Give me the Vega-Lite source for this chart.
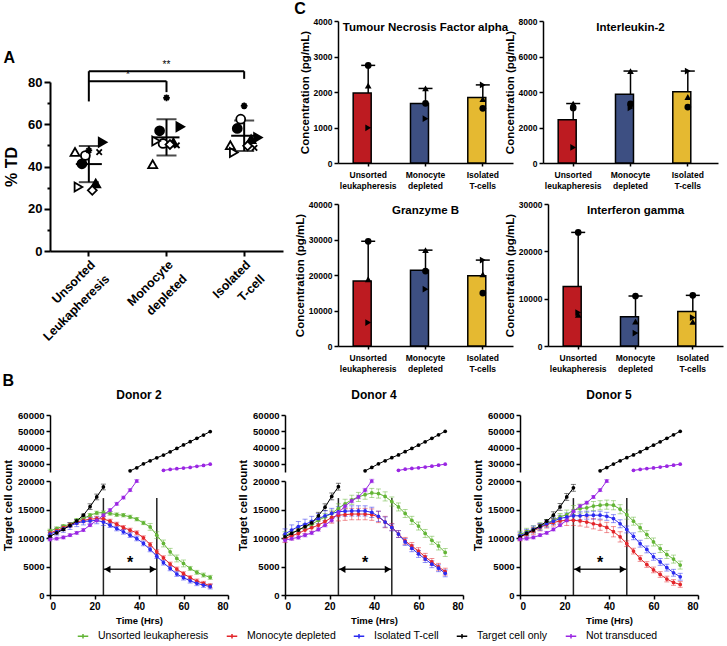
{
"$schema": "https://vega.github.io/schema/vega-lite/v6.json",
"padding": {"left": 2, "top": 1, "right": 2, "bottom": 2},
"config": {
  "font": "Liberation Sans",
  "view": {"stroke": null},
  "axis": {"grid": false, "domainColor": "#000", "tickColor": "#000", "labelColor": "#000", "titleColor": "#000", "labelFontWeight": "bold", "titleFontWeight": "bold", "domainWidth": 1.5, "tickWidth": 1.5, "labelOverlap": false},
  "title": {"fontWeight": "bold", "color": "#000"}
},
"datasets": {
  "a": [
    {"c":"Unsorted Leukapheresis","d":"D1","v":41.3},{"c":"Unsorted Leukapheresis","d":"D2","v":45.2},{"c":"Unsorted Leukapheresis","d":"D3","v":32},{"c":"Unsorted Leukapheresis","d":"D4","v":46.9},{"c":"Unsorted Leukapheresis","d":"D5","v":51.5},{"c":"Unsorted Leukapheresis","d":"D6","v":30.3},{"c":"Unsorted Leukapheresis","d":"D7","v":28.7},{"c":"Unsorted Leukapheresis","d":"D8","v":46.8},{"c":"Unsorted Leukapheresis","d":"D9","v":47.6},
    {"c":"Monocyte depleted","d":"D1","v":56.9},{"c":"Monocyte depleted","d":"D2","v":50.9},{"c":"Monocyte depleted","d":"D3","v":51.4},{"c":"Monocyte depleted","d":"D4","v":41.1},{"c":"Monocyte depleted","d":"D5","v":58.8},{"c":"Monocyte depleted","d":"D6","v":52.1},{"c":"Monocyte depleted","d":"D7","v":50.4},{"c":"Monocyte depleted","d":"D8","v":50.0},{"c":"Monocyte depleted","d":"D9","v":72.5},
    {"c":"Isolated T-cell","d":"D1","v":58},{"c":"Isolated T-cell","d":"D2","v":62.4},{"c":"Isolated T-cell","d":"D3","v":52.9},{"c":"Isolated T-cell","d":"D4","v":50.1},{"c":"Isolated T-cell","d":"D5","v":53.7},{"c":"Isolated T-cell","d":"D6","v":46.6},{"c":"Isolated T-cell","d":"D7","v":49.8},{"c":"Isolated T-cell","d":"D8","v":48.8},{"c":"Isolated T-cell","d":"D9","v":68.7}
  ],
  "abr": [
    {"c":"Unsorted Leukapheresis","c2":"Unsorted Leukapheresis","v":70.8,"v2":85.1},
    {"c":"Unsorted Leukapheresis","c2":"Isolated T-cell","v":85.1,"v2":85.1},
    {"c":"Isolated T-cell","c2":"Isolated T-cell","v":81.5,"v2":85.1},
    {"c":"Unsorted Leukapheresis","c2":"Monocyte depleted","v":80.4,"v2":80.4},
    {"c":"Monocyte depleted","c2":"Monocyte depleted","v":75.2,"v2":80.4}
  ],
  "c": [
    {"k":"TNF","c":"Unsorted leukapheresis","d":"P1","v":2750},{"k":"TNF","c":"Unsorted leukapheresis","d":"P2","v":2180},{"k":"TNF","c":"Unsorted leukapheresis","d":"P3","v":990},
    {"k":"TNF","c":"Monocyte depleted","d":"P1","v":1680},{"k":"TNF","c":"Monocyte depleted","d":"P2","v":2100},{"k":"TNF","c":"Monocyte depleted","d":"P3","v":1250},
    {"k":"TNF","c":"Isolated T-cells","d":"P1","v":1540},{"k":"TNF","c":"Isolated T-cells","d":"P2","v":1800},{"k":"TNF","c":"Isolated T-cells","d":"P3","v":2200},
    {"k":"IL2","c":"Unsorted leukapheresis","d":"P1","v":3100},{"k":"IL2","c":"Unsorted leukapheresis","d":"P2","v":3350},{"k":"IL2","c":"Unsorted leukapheresis","d":"P3","v":880},
    {"k":"IL2","c":"Monocyte depleted","d":"P1","v":3330},{"k":"IL2","c":"Monocyte depleted","d":"P2","v":5180},{"k":"IL2","c":"Monocyte depleted","d":"P3","v":3100},
    {"k":"IL2","c":"Isolated T-cells","d":"P1","v":3150},{"k":"IL2","c":"Isolated T-cells","d":"P2","v":3720},{"k":"IL2","c":"Isolated T-cells","d":"P3","v":5180},
    {"k":"GZB","c":"Unsorted leukapheresis","d":"P1","v":29500},{"k":"GZB","c":"Unsorted leukapheresis","d":"P2","v":18800},{"k":"GZB","c":"Unsorted leukapheresis","d":"P3","v":6600},
    {"k":"GZB","c":"Monocyte depleted","d":"P1","v":21100},{"k":"GZB","c":"Monocyte depleted","d":"P2","v":27000},{"k":"GZB","c":"Monocyte depleted","d":"P3","v":16000},
    {"k":"GZB","c":"Isolated T-cells","d":"P1","v":14900},{"k":"GZB","c":"Isolated T-cells","d":"P2","v":20200},{"k":"GZB","c":"Isolated T-cells","d":"P3","v":24200},
    {"k":"IFN","c":"Unsorted leukapheresis","d":"P1","v":24000},{"k":"IFN","c":"Unsorted leukapheresis","d":"P2","v":6570},{"k":"IFN","c":"Unsorted leukapheresis","d":"P3","v":7070},
    {"k":"IFN","c":"Monocyte depleted","d":"P1","v":10560},{"k":"IFN","c":"Monocyte depleted","d":"P2","v":5170},{"k":"IFN","c":"Monocyte depleted","d":"P3","v":2730},
    {"k":"IFN","c":"Isolated T-cells","d":"P1","v":10700},{"k":"IFN","c":"Isolated T-cells","d":"P2","v":5100},{"k":"IFN","c":"Isolated T-cells","d":"P3","v":6000}
  ],
  "vr": [{"t":24,"y":0,"y2":17000},{"t":48,"y":0,"y2":17000}],
  "ar": [{"t":24,"t2":48,"y":4500}],
  "ah": [{"t":25.8,"y":4500,"sh":"triangle-left"},{"t":46.2,"y":4500,"sh":"triangle-right"}],
  "st": [{"t":36,"y":5600,"txt":"*"}],
  "b": [
{"d":2,"s":"Unsorted leukapheresis","t":0,"y":11250,"e":300},{"d":2,"s":"Unsorted leukapheresis","t":3,"y":11660,"e":300},{"d":2,"s":"Unsorted leukapheresis","t":6,"y":12070,"e":300},{"d":2,"s":"Unsorted leukapheresis","t":9,"y":12420,"e":300},{"d":2,"s":"Unsorted leukapheresis","t":12,"y":13120,"e":300},{"d":2,"s":"Unsorted leukapheresis","t":15,"y":13410,"e":300},{"d":2,"s":"Unsorted leukapheresis","t":18,"y":14000,"e":300},{"d":2,"s":"Unsorted leukapheresis","t":21,"y":14400,"e":300},{"d":2,"s":"Unsorted leukapheresis","t":24,"y":14460,"e":300},{"d":2,"s":"Unsorted leukapheresis","t":27,"y":14300,"e":300},{"d":2,"s":"Unsorted leukapheresis","t":30,"y":14100,"e":300},{"d":2,"s":"Unsorted leukapheresis","t":33,"y":14000,"e":300},{"d":2,"s":"Unsorted leukapheresis","t":36,"y":13700,"e":300},{"d":2,"s":"Unsorted leukapheresis","t":39,"y":13300,"e":300},{"d":2,"s":"Unsorted leukapheresis","t":42,"y":12650,"e":300},{"d":2,"s":"Unsorted leukapheresis","t":45,"y":11950,"e":600},{"d":2,"s":"Unsorted leukapheresis","t":48,"y":10500,"e":600},{"d":2,"s":"Unsorted leukapheresis","t":51,"y":9040,"e":600},{"d":2,"s":"Unsorted leukapheresis","t":54,"y":7580,"e":600},{"d":2,"s":"Unsorted leukapheresis","t":57,"y":6410,"e":600},{"d":2,"s":"Unsorted leukapheresis","t":60,"y":5540,"e":600},{"d":2,"s":"Unsorted leukapheresis","t":63,"y":4660,"e":350},{"d":2,"s":"Unsorted leukapheresis","t":66,"y":3970,"e":350},{"d":2,"s":"Unsorted leukapheresis","t":69,"y":3500,"e":350},{"d":2,"s":"Unsorted leukapheresis","t":72,"y":3090,"e":350},
{"d":2,"s":"Monocyte depleted","t":0,"y":10900,"e":400},{"d":2,"s":"Monocyte depleted","t":3,"y":11300,"e":400},{"d":2,"s":"Monocyte depleted","t":6,"y":11800,"e":400},{"d":2,"s":"Monocyte depleted","t":9,"y":12300,"e":400},{"d":2,"s":"Monocyte depleted","t":12,"y":12800,"e":400},{"d":2,"s":"Monocyte depleted","t":15,"y":13100,"e":400},{"d":2,"s":"Monocyte depleted","t":18,"y":13300,"e":400},{"d":2,"s":"Monocyte depleted","t":21,"y":13400,"e":400},{"d":2,"s":"Monocyte depleted","t":24,"y":13350,"e":400},{"d":2,"s":"Monocyte depleted","t":27,"y":12940,"e":350},{"d":2,"s":"Monocyte depleted","t":30,"y":12420,"e":350},{"d":2,"s":"Monocyte depleted","t":33,"y":11840,"e":350},{"d":2,"s":"Monocyte depleted","t":36,"y":11370,"e":350},{"d":2,"s":"Monocyte depleted","t":39,"y":10900,"e":350},{"d":2,"s":"Monocyte depleted","t":42,"y":10030,"e":350},{"d":2,"s":"Monocyte depleted","t":45,"y":8860,"e":350},{"d":2,"s":"Monocyte depleted","t":48,"y":7580,"e":350},{"d":2,"s":"Monocyte depleted","t":51,"y":6530,"e":350},{"d":2,"s":"Monocyte depleted","t":54,"y":5420,"e":350},{"d":2,"s":"Monocyte depleted","t":57,"y":4550,"e":350},{"d":2,"s":"Monocyte depleted","t":60,"y":3730,"e":350},{"d":2,"s":"Monocyte depleted","t":63,"y":3030,"e":350},{"d":2,"s":"Monocyte depleted","t":66,"y":2450,"e":350},{"d":2,"s":"Monocyte depleted","t":69,"y":2040,"e":350},{"d":2,"s":"Monocyte depleted","t":72,"y":1630,"e":350},
{"d":2,"s":"Isolated T-cell","t":0,"y":10700,"e":600},{"d":2,"s":"Isolated T-cell","t":3,"y":11100,"e":600},{"d":2,"s":"Isolated T-cell","t":6,"y":11600,"e":600},{"d":2,"s":"Isolated T-cell","t":9,"y":12100,"e":600},{"d":2,"s":"Isolated T-cell","t":12,"y":12600,"e":600},{"d":2,"s":"Isolated T-cell","t":15,"y":12900,"e":600},{"d":2,"s":"Isolated T-cell","t":18,"y":13000,"e":600},{"d":2,"s":"Isolated T-cell","t":21,"y":13100,"e":600},{"d":2,"s":"Isolated T-cell","t":24,"y":12800,"e":600},{"d":2,"s":"Isolated T-cell","t":27,"y":12240,"e":400},{"d":2,"s":"Isolated T-cell","t":30,"y":11660,"e":400},{"d":2,"s":"Isolated T-cell","t":33,"y":11080,"e":400},{"d":2,"s":"Isolated T-cell","t":36,"y":10500,"e":400},{"d":2,"s":"Isolated T-cell","t":39,"y":9910,"e":400},{"d":2,"s":"Isolated T-cell","t":42,"y":9040,"e":400},{"d":2,"s":"Isolated T-cell","t":45,"y":7990,"e":400},{"d":2,"s":"Isolated T-cell","t":48,"y":6820,"e":400},{"d":2,"s":"Isolated T-cell","t":51,"y":5660,"e":400},{"d":2,"s":"Isolated T-cell","t":54,"y":4660,"e":400},{"d":2,"s":"Isolated T-cell","t":57,"y":3670,"e":400},{"d":2,"s":"Isolated T-cell","t":60,"y":3030,"e":400},{"d":2,"s":"Isolated T-cell","t":63,"y":2500,"e":400},{"d":2,"s":"Isolated T-cell","t":66,"y":2040,"e":400},{"d":2,"s":"Isolated T-cell","t":69,"y":1750,"e":400},{"d":2,"s":"Isolated T-cell","t":72,"y":1460,"e":400},
{"d":2,"s":"Target cell only","t":0,"y":10300,"e":200},{"d":2,"s":"Target cell only","t":3,"y":10900,"e":200},{"d":2,"s":"Target cell only","t":6,"y":11500,"e":200},{"d":2,"s":"Target cell only","t":9,"y":12200,"e":200},{"d":2,"s":"Target cell only","t":12,"y":13000,"e":200},{"d":2,"s":"Target cell only","t":15,"y":14000,"e":200},{"d":2,"s":"Target cell only","t":18,"y":15500,"e":500},{"d":2,"s":"Target cell only","t":21,"y":17200,"e":500},{"d":2,"s":"Target cell only","t":24,"y":18950,"e":500},{"d":2,"s":"Target cell only","t":27,"y":20900,"e":200},{"d":2,"s":"Target cell only","t":30,"y":22500,"e":200},{"d":2,"s":"Target cell only","t":33,"y":24100,"e":200},{"d":2,"s":"Target cell only","t":36,"y":25700,"e":200},{"d":2,"s":"Target cell only","t":39,"y":27600,"e":200},{"d":2,"s":"Target cell only","t":42,"y":30000,"e":200},{"d":2,"s":"Target cell only","t":45,"y":31900,"e":200},{"d":2,"s":"Target cell only","t":48,"y":33700,"e":200},{"d":2,"s":"Target cell only","t":51,"y":35400,"e":200},{"d":2,"s":"Target cell only","t":54,"y":37400,"e":200},{"d":2,"s":"Target cell only","t":57,"y":39500,"e":200},{"d":2,"s":"Target cell only","t":60,"y":41600,"e":200},{"d":2,"s":"Target cell only","t":63,"y":43600,"e":200},{"d":2,"s":"Target cell only","t":66,"y":45700,"e":200},{"d":2,"s":"Target cell only","t":69,"y":47700,"e":200},{"d":2,"s":"Target cell only","t":72,"y":49800,"e":200},
{"d":2,"s":"Not transduced","t":0,"y":9750,"e":250},{"d":2,"s":"Not transduced","t":3,"y":9900,"e":250},{"d":2,"s":"Not transduced","t":6,"y":10100,"e":250},{"d":2,"s":"Not transduced","t":9,"y":10500,"e":250},{"d":2,"s":"Not transduced","t":12,"y":10900,"e":250},{"d":2,"s":"Not transduced","t":15,"y":11400,"e":250},{"d":2,"s":"Not transduced","t":18,"y":12250,"e":250},{"d":2,"s":"Not transduced","t":21,"y":13100,"e":250},{"d":2,"s":"Not transduced","t":24,"y":14000,"e":250},{"d":2,"s":"Not transduced","t":27,"y":14900,"e":250},{"d":2,"s":"Not transduced","t":30,"y":16000,"e":250},{"d":2,"s":"Not transduced","t":33,"y":17100,"e":250},{"d":2,"s":"Not transduced","t":36,"y":18400,"e":250},{"d":2,"s":"Not transduced","t":39,"y":20000,"e":250},{"d":2,"s":"Not transduced","t":42,"y":21800,"e":250},{"d":2,"s":"Not transduced","t":45,"y":23500,"e":250},{"d":2,"s":"Not transduced","t":48,"y":24800,"e":250},{"d":2,"s":"Not transduced","t":51,"y":26000,"e":250},{"d":2,"s":"Not transduced","t":54,"y":26600,"e":250},{"d":2,"s":"Not transduced","t":57,"y":27000,"e":250},{"d":2,"s":"Not transduced","t":60,"y":27400,"e":250},{"d":2,"s":"Not transduced","t":63,"y":27800,"e":250},{"d":2,"s":"Not transduced","t":66,"y":28500,"e":250},{"d":2,"s":"Not transduced","t":69,"y":29000,"e":250},{"d":2,"s":"Not transduced","t":72,"y":29800,"e":250},
{"d":4,"s":"Unsorted leukapheresis","t":0,"y":10500,"e":600},{"d":4,"s":"Unsorted leukapheresis","t":3,"y":10900,"e":600},{"d":4,"s":"Unsorted leukapheresis","t":6,"y":11400,"e":600},{"d":4,"s":"Unsorted leukapheresis","t":9,"y":11950,"e":600},{"d":4,"s":"Unsorted leukapheresis","t":12,"y":12400,"e":600},{"d":4,"s":"Unsorted leukapheresis","t":15,"y":13100,"e":600},{"d":4,"s":"Unsorted leukapheresis","t":18,"y":13700,"e":600},{"d":4,"s":"Unsorted leukapheresis","t":21,"y":14300,"e":600},{"d":4,"s":"Unsorted leukapheresis","t":24,"y":15200,"e":800},{"d":4,"s":"Unsorted leukapheresis","t":27,"y":16000,"e":800},{"d":4,"s":"Unsorted leukapheresis","t":30,"y":16700,"e":800},{"d":4,"s":"Unsorted leukapheresis","t":33,"y":17200,"e":800},{"d":4,"s":"Unsorted leukapheresis","t":36,"y":17600,"e":800},{"d":4,"s":"Unsorted leukapheresis","t":39,"y":17900,"e":800},{"d":4,"s":"Unsorted leukapheresis","t":42,"y":17800,"e":800},{"d":4,"s":"Unsorted leukapheresis","t":45,"y":17300,"e":800},{"d":4,"s":"Unsorted leukapheresis","t":48,"y":16400,"e":800},{"d":4,"s":"Unsorted leukapheresis","t":51,"y":15450,"e":700},{"d":4,"s":"Unsorted leukapheresis","t":54,"y":14300,"e":700},{"d":4,"s":"Unsorted leukapheresis","t":57,"y":13100,"e":700},{"d":4,"s":"Unsorted leukapheresis","t":60,"y":12100,"e":700},{"d":4,"s":"Unsorted leukapheresis","t":63,"y":10800,"e":700},{"d":4,"s":"Unsorted leukapheresis","t":66,"y":9600,"e":700},{"d":4,"s":"Unsorted leukapheresis","t":69,"y":8600,"e":700},{"d":4,"s":"Unsorted leukapheresis","t":72,"y":7460,"e":700},
{"d":4,"s":"Monocyte depleted","t":0,"y":9900,"e":700},{"d":4,"s":"Monocyte depleted","t":3,"y":10400,"e":700},{"d":4,"s":"Monocyte depleted","t":6,"y":10800,"e":700},{"d":4,"s":"Monocyte depleted","t":9,"y":11400,"e":700},{"d":4,"s":"Monocyte depleted","t":12,"y":11800,"e":700},{"d":4,"s":"Monocyte depleted","t":15,"y":12250,"e":700},{"d":4,"s":"Monocyte depleted","t":18,"y":12900,"e":700},{"d":4,"s":"Monocyte depleted","t":21,"y":13600,"e":1000},{"d":4,"s":"Monocyte depleted","t":24,"y":14000,"e":1000},{"d":4,"s":"Monocyte depleted","t":27,"y":14100,"e":1000},{"d":4,"s":"Monocyte depleted","t":30,"y":14200,"e":1000},{"d":4,"s":"Monocyte depleted","t":33,"y":14200,"e":1000},{"d":4,"s":"Monocyte depleted","t":36,"y":14200,"e":1000},{"d":4,"s":"Monocyte depleted","t":39,"y":14100,"e":1000},{"d":4,"s":"Monocyte depleted","t":42,"y":13700,"e":1000},{"d":4,"s":"Monocyte depleted","t":45,"y":12800,"e":1000},{"d":4,"s":"Monocyte depleted","t":48,"y":11950,"e":600},{"d":4,"s":"Monocyte depleted","t":51,"y":10700,"e":600},{"d":4,"s":"Monocyte depleted","t":54,"y":9500,"e":600},{"d":4,"s":"Monocyte depleted","t":57,"y":8600,"e":600},{"d":4,"s":"Monocyte depleted","t":60,"y":7700,"e":600},{"d":4,"s":"Monocyte depleted","t":63,"y":6700,"e":600},{"d":4,"s":"Monocyte depleted","t":66,"y":5800,"e":600},{"d":4,"s":"Monocyte depleted","t":69,"y":4950,"e":600},{"d":4,"s":"Monocyte depleted","t":72,"y":4100,"e":600},
{"d":4,"s":"Isolated T-cell","t":0,"y":10700,"e":900},{"d":4,"s":"Isolated T-cell","t":3,"y":11400,"e":900},{"d":4,"s":"Isolated T-cell","t":6,"y":12000,"e":900},{"d":4,"s":"Isolated T-cell","t":9,"y":12400,"e":900},{"d":4,"s":"Isolated T-cell","t":12,"y":12900,"e":900},{"d":4,"s":"Isolated T-cell","t":15,"y":13400,"e":900},{"d":4,"s":"Isolated T-cell","t":18,"y":13900,"e":900},{"d":4,"s":"Isolated T-cell","t":21,"y":14300,"e":900},{"d":4,"s":"Isolated T-cell","t":24,"y":14600,"e":900},{"d":4,"s":"Isolated T-cell","t":27,"y":14700,"e":900},{"d":4,"s":"Isolated T-cell","t":30,"y":14750,"e":900},{"d":4,"s":"Isolated T-cell","t":33,"y":14750,"e":900},{"d":4,"s":"Isolated T-cell","t":36,"y":14750,"e":900},{"d":4,"s":"Isolated T-cell","t":39,"y":14500,"e":900},{"d":4,"s":"Isolated T-cell","t":42,"y":13800,"e":900},{"d":4,"s":"Isolated T-cell","t":45,"y":12800,"e":900},{"d":4,"s":"Isolated T-cell","t":48,"y":11850,"e":600},{"d":4,"s":"Isolated T-cell","t":51,"y":10700,"e":600},{"d":4,"s":"Isolated T-cell","t":54,"y":9300,"e":600},{"d":4,"s":"Isolated T-cell","t":57,"y":8200,"e":600},{"d":4,"s":"Isolated T-cell","t":60,"y":7200,"e":600},{"d":4,"s":"Isolated T-cell","t":63,"y":6300,"e":600},{"d":4,"s":"Isolated T-cell","t":66,"y":5400,"e":600},{"d":4,"s":"Isolated T-cell","t":69,"y":4700,"e":600},{"d":4,"s":"Isolated T-cell","t":72,"y":3800,"e":600},
{"d":4,"s":"Target cell only","t":0,"y":10200,"e":300},{"d":4,"s":"Target cell only","t":3,"y":10800,"e":300},{"d":4,"s":"Target cell only","t":6,"y":11400,"e":300},{"d":4,"s":"Target cell only","t":9,"y":12000,"e":300},{"d":4,"s":"Target cell only","t":12,"y":12650,"e":300},{"d":4,"s":"Target cell only","t":15,"y":13900,"e":600},{"d":4,"s":"Target cell only","t":18,"y":15400,"e":600},{"d":4,"s":"Target cell only","t":21,"y":17300,"e":600},{"d":4,"s":"Target cell only","t":24,"y":19000,"e":600},{"d":4,"s":"Target cell only","t":27,"y":20900,"e":300},{"d":4,"s":"Target cell only","t":30,"y":22500,"e":300},{"d":4,"s":"Target cell only","t":33,"y":24100,"e":300},{"d":4,"s":"Target cell only","t":36,"y":25700,"e":300},{"d":4,"s":"Target cell only","t":39,"y":27800,"e":300},{"d":4,"s":"Target cell only","t":42,"y":30000,"e":300},{"d":4,"s":"Target cell only","t":45,"y":31900,"e":300},{"d":4,"s":"Target cell only","t":48,"y":33800,"e":300},{"d":4,"s":"Target cell only","t":51,"y":35500,"e":300},{"d":4,"s":"Target cell only","t":54,"y":37500,"e":300},{"d":4,"s":"Target cell only","t":57,"y":39500,"e":300},{"d":4,"s":"Target cell only","t":60,"y":41500,"e":300},{"d":4,"s":"Target cell only","t":63,"y":43500,"e":300},{"d":4,"s":"Target cell only","t":66,"y":45700,"e":300},{"d":4,"s":"Target cell only","t":69,"y":47800,"e":300},{"d":4,"s":"Target cell only","t":72,"y":50000,"e":300},
{"d":4,"s":"Not transduced","t":0,"y":9600,"e":300},{"d":4,"s":"Not transduced","t":3,"y":9900,"e":300},{"d":4,"s":"Not transduced","t":6,"y":10100,"e":300},{"d":4,"s":"Not transduced","t":9,"y":10500,"e":300},{"d":4,"s":"Not transduced","t":12,"y":10900,"e":300},{"d":4,"s":"Not transduced","t":15,"y":11500,"e":300},{"d":4,"s":"Not transduced","t":18,"y":12250,"e":300},{"d":4,"s":"Not transduced","t":21,"y":13100,"e":300},{"d":4,"s":"Not transduced","t":24,"y":14400,"e":300},{"d":4,"s":"Not transduced","t":27,"y":15600,"e":300},{"d":4,"s":"Not transduced","t":30,"y":16500,"e":300},{"d":4,"s":"Not transduced","t":33,"y":17200,"e":300},{"d":4,"s":"Not transduced","t":36,"y":18400,"e":300},{"d":4,"s":"Not transduced","t":39,"y":20000,"e":300},{"d":4,"s":"Not transduced","t":42,"y":21800,"e":300},{"d":4,"s":"Not transduced","t":45,"y":23500,"e":300},{"d":4,"s":"Not transduced","t":48,"y":24800,"e":300},{"d":4,"s":"Not transduced","t":51,"y":26000,"e":300},{"d":4,"s":"Not transduced","t":54,"y":26700,"e":300},{"d":4,"s":"Not transduced","t":57,"y":27200,"e":300},{"d":4,"s":"Not transduced","t":60,"y":27600,"e":300},{"d":4,"s":"Not transduced","t":63,"y":28000,"e":300},{"d":4,"s":"Not transduced","t":66,"y":28600,"e":300},{"d":4,"s":"Not transduced","t":69,"y":29200,"e":300},{"d":4,"s":"Not transduced","t":72,"y":29800,"e":300},
{"d":5,"s":"Unsorted leukapheresis","t":0,"y":10600,"e":600},{"d":5,"s":"Unsorted leukapheresis","t":3,"y":11100,"e":600},{"d":5,"s":"Unsorted leukapheresis","t":6,"y":11550,"e":600},{"d":5,"s":"Unsorted leukapheresis","t":9,"y":12100,"e":600},{"d":5,"s":"Unsorted leukapheresis","t":12,"y":12650,"e":600},{"d":5,"s":"Unsorted leukapheresis","t":15,"y":13100,"e":600},{"d":5,"s":"Unsorted leukapheresis","t":18,"y":13700,"e":600},{"d":5,"s":"Unsorted leukapheresis","t":21,"y":14100,"e":800},{"d":5,"s":"Unsorted leukapheresis","t":24,"y":14900,"e":800},{"d":5,"s":"Unsorted leukapheresis","t":27,"y":15150,"e":800},{"d":5,"s":"Unsorted leukapheresis","t":30,"y":15300,"e":800},{"d":5,"s":"Unsorted leukapheresis","t":33,"y":15600,"e":800},{"d":5,"s":"Unsorted leukapheresis","t":36,"y":15750,"e":800},{"d":5,"s":"Unsorted leukapheresis","t":39,"y":15850,"e":800},{"d":5,"s":"Unsorted leukapheresis","t":42,"y":15750,"e":800},{"d":5,"s":"Unsorted leukapheresis","t":45,"y":15050,"e":800},{"d":5,"s":"Unsorted leukapheresis","t":48,"y":14100,"e":800},{"d":5,"s":"Unsorted leukapheresis","t":51,"y":12950,"e":700},{"d":5,"s":"Unsorted leukapheresis","t":54,"y":11800,"e":700},{"d":5,"s":"Unsorted leukapheresis","t":57,"y":10600,"e":700},{"d":5,"s":"Unsorted leukapheresis","t":60,"y":9300,"e":700},{"d":5,"s":"Unsorted leukapheresis","t":63,"y":8150,"e":700},{"d":5,"s":"Unsorted leukapheresis","t":66,"y":7100,"e":700},{"d":5,"s":"Unsorted leukapheresis","t":69,"y":6300,"e":700},{"d":5,"s":"Unsorted leukapheresis","t":72,"y":5250,"e":700},
{"d":5,"s":"Monocyte depleted","t":0,"y":10100,"e":600},{"d":5,"s":"Monocyte depleted","t":3,"y":10700,"e":600},{"d":5,"s":"Monocyte depleted","t":6,"y":11250,"e":600},{"d":5,"s":"Monocyte depleted","t":9,"y":11850,"e":600},{"d":5,"s":"Monocyte depleted","t":12,"y":12350,"e":600},{"d":5,"s":"Monocyte depleted","t":15,"y":12700,"e":600},{"d":5,"s":"Monocyte depleted","t":18,"y":13000,"e":600},{"d":5,"s":"Monocyte depleted","t":21,"y":13100,"e":900},{"d":5,"s":"Monocyte depleted","t":24,"y":13100,"e":900},{"d":5,"s":"Monocyte depleted","t":27,"y":13000,"e":900},{"d":5,"s":"Monocyte depleted","t":30,"y":12800,"e":900},{"d":5,"s":"Monocyte depleted","t":33,"y":12500,"e":900},{"d":5,"s":"Monocyte depleted","t":36,"y":12250,"e":900},{"d":5,"s":"Monocyte depleted","t":39,"y":11850,"e":900},{"d":5,"s":"Monocyte depleted","t":42,"y":11100,"e":900},{"d":5,"s":"Monocyte depleted","t":45,"y":10200,"e":900},{"d":5,"s":"Monocyte depleted","t":48,"y":9000,"e":500},{"d":5,"s":"Monocyte depleted","t":51,"y":7700,"e":500},{"d":5,"s":"Monocyte depleted","t":54,"y":6400,"e":500},{"d":5,"s":"Monocyte depleted","t":57,"y":5350,"e":500},{"d":5,"s":"Monocyte depleted","t":60,"y":4400,"e":500},{"d":5,"s":"Monocyte depleted","t":63,"y":3600,"e":500},{"d":5,"s":"Monocyte depleted","t":66,"y":2800,"e":500},{"d":5,"s":"Monocyte depleted","t":69,"y":2200,"e":500},{"d":5,"s":"Monocyte depleted","t":72,"y":1850,"e":500},
{"d":5,"s":"Isolated T-cell","t":0,"y":10400,"e":600},{"d":5,"s":"Isolated T-cell","t":3,"y":10900,"e":600},{"d":5,"s":"Isolated T-cell","t":6,"y":11500,"e":600},{"d":5,"s":"Isolated T-cell","t":9,"y":11950,"e":600},{"d":5,"s":"Isolated T-cell","t":12,"y":12500,"e":600},{"d":5,"s":"Isolated T-cell","t":15,"y":12950,"e":600},{"d":5,"s":"Isolated T-cell","t":18,"y":13400,"e":600},{"d":5,"s":"Isolated T-cell","t":21,"y":13700,"e":700},{"d":5,"s":"Isolated T-cell","t":24,"y":13900,"e":700},{"d":5,"s":"Isolated T-cell","t":27,"y":13900,"e":700},{"d":5,"s":"Isolated T-cell","t":30,"y":14000,"e":700},{"d":5,"s":"Isolated T-cell","t":33,"y":14000,"e":700},{"d":5,"s":"Isolated T-cell","t":36,"y":14000,"e":700},{"d":5,"s":"Isolated T-cell","t":39,"y":13800,"e":700},{"d":5,"s":"Isolated T-cell","t":42,"y":13400,"e":700},{"d":5,"s":"Isolated T-cell","t":45,"y":12500,"e":700},{"d":5,"s":"Isolated T-cell","t":48,"y":11500,"e":600},{"d":5,"s":"Isolated T-cell","t":51,"y":10300,"e":600},{"d":5,"s":"Isolated T-cell","t":54,"y":9000,"e":600},{"d":5,"s":"Isolated T-cell","t":57,"y":8000,"e":600},{"d":5,"s":"Isolated T-cell","t":60,"y":6700,"e":600},{"d":5,"s":"Isolated T-cell","t":63,"y":5800,"e":600},{"d":5,"s":"Isolated T-cell","t":66,"y":4800,"e":600},{"d":5,"s":"Isolated T-cell","t":69,"y":3900,"e":600},{"d":5,"s":"Isolated T-cell","t":72,"y":3200,"e":600},
{"d":5,"s":"Target cell only","t":0,"y":10200,"e":300},{"d":5,"s":"Target cell only","t":3,"y":10800,"e":300},{"d":5,"s":"Target cell only","t":6,"y":11400,"e":300},{"d":5,"s":"Target cell only","t":9,"y":12100,"e":300},{"d":5,"s":"Target cell only","t":12,"y":12950,"e":300},{"d":5,"s":"Target cell only","t":15,"y":14000,"e":600},{"d":5,"s":"Target cell only","t":18,"y":15450,"e":600},{"d":5,"s":"Target cell only","t":21,"y":17200,"e":600},{"d":5,"s":"Target cell only","t":24,"y":18800,"e":600},{"d":5,"s":"Target cell only","t":27,"y":20800,"e":300},{"d":5,"s":"Target cell only","t":30,"y":22400,"e":300},{"d":5,"s":"Target cell only","t":33,"y":24100,"e":300},{"d":5,"s":"Target cell only","t":36,"y":25700,"e":300},{"d":5,"s":"Target cell only","t":39,"y":27700,"e":300},{"d":5,"s":"Target cell only","t":42,"y":29900,"e":300},{"d":5,"s":"Target cell only","t":45,"y":31900,"e":300},{"d":5,"s":"Target cell only","t":48,"y":33800,"e":300},{"d":5,"s":"Target cell only","t":51,"y":35500,"e":300},{"d":5,"s":"Target cell only","t":54,"y":37400,"e":300},{"d":5,"s":"Target cell only","t":57,"y":39500,"e":300},{"d":5,"s":"Target cell only","t":60,"y":41500,"e":300},{"d":5,"s":"Target cell only","t":63,"y":43500,"e":300},{"d":5,"s":"Target cell only","t":66,"y":45700,"e":300},{"d":5,"s":"Target cell only","t":69,"y":47800,"e":300},{"d":5,"s":"Target cell only","t":72,"y":50000,"e":300},
{"d":5,"s":"Not transduced","t":0,"y":9800,"e":250},{"d":5,"s":"Not transduced","t":3,"y":9900,"e":250},{"d":5,"s":"Not transduced","t":6,"y":10100,"e":250},{"d":5,"s":"Not transduced","t":9,"y":10500,"e":250},{"d":5,"s":"Not transduced","t":12,"y":10900,"e":250},{"d":5,"s":"Not transduced","t":15,"y":11500,"e":250},{"d":5,"s":"Not transduced","t":18,"y":12250,"e":250},{"d":5,"s":"Not transduced","t":21,"y":13100,"e":250},{"d":5,"s":"Not transduced","t":24,"y":14700,"e":250},{"d":5,"s":"Not transduced","t":27,"y":15600,"e":250},{"d":5,"s":"Not transduced","t":30,"y":16200,"e":250},{"d":5,"s":"Not transduced","t":33,"y":17200,"e":250},{"d":5,"s":"Not transduced","t":36,"y":18400,"e":250},{"d":5,"s":"Not transduced","t":39,"y":20000,"e":250},{"d":5,"s":"Not transduced","t":42,"y":21800,"e":250},{"d":5,"s":"Not transduced","t":45,"y":23500,"e":250},{"d":5,"s":"Not transduced","t":48,"y":24800,"e":250},{"d":5,"s":"Not transduced","t":51,"y":26000,"e":250},{"d":5,"s":"Not transduced","t":54,"y":26600,"e":250},{"d":5,"s":"Not transduced","t":57,"y":27100,"e":250},{"d":5,"s":"Not transduced","t":60,"y":27500,"e":250},{"d":5,"s":"Not transduced","t":63,"y":28000,"e":250},{"d":5,"s":"Not transduced","t":66,"y":28600,"e":250},{"d":5,"s":"Not transduced","t":69,"y":29200,"e":250},{"d":5,"s":"Not transduced","t":72,"y":29800,"e":250}
  ]
},
"spacing": 0,
"resolve": {"scale": {"fill": "independent", "shape": "independent"}},
"vconcat": [
 {
  "spacing": 11,
  "resolve": {"scale": {"fill": "independent", "shape": "independent"}},
  "hconcat": [
   {
    "spacing": 0, "bounds": "flush",
    "vconcat": [
     {"width": 233, "height": 61, "data": {"values": []}, "mark": {"type": "point"}},
     {
      "title": {"text": "A", "anchor": "start", "frame": "bounds", "fontSize": 16, "offset": -6},
      "width": 233, "height": 169,
      "encoding": {
        "x": {"field": "c", "type": "nominal", "scale": {"type": "band", "domain": ["Unsorted Leukapheresis", "Monocyte depleted", "Isolated T-cell"], "paddingInner": 0.6, "paddingOuter": 0.3},
              "axis": {"title": null, "labelAngle": -45, "labelAlign": "right", "labelBaseline": "top", "labelExpr": "split(datum.label, ' ')", "labelFontSize": 12.5, "labelLineHeight": 20, "domainWidth": 2, "tickWidth": 2, "tickSize": 5, "labelPadding": 2}},
        "y": {"field": "v", "type": "quantitative", "scale": {"domain": [0, 80], "nice": false},
              "axis": {"title": "% TD", "titleFontSize": 16, "titlePadding": 8, "values": [0, 10, 20, 30, 40, 50, 60, 70, 80], "labelExpr": "datum.value % 20 === 0 ? datum.label : ''", "tickSize": {"condition": {"test": "datum.value % 20 !== 0", "value": 3}, "value": 6}, "labelFontSize": 13, "domainWidth": 2, "tickWidth": 2}}
      },
      "layer": [
        {"data": {"name": "abr"}, "mark": {"type": "rule", "strokeWidth": 2, "color": "#000"}, "encoding": {"x2": {"field": "c2"}, "y2": {"field": "v2"}}},
        {"data": {"values": [{"c": "Monocyte depleted", "v": 85.6, "txt": "**"}]}, "mark": {"type": "text", "fontSize": 10, "baseline": "bottom", "fill": "#000"}, "encoding": {"text": {"field": "txt"}}},
        {"data": {"values": [{"c": "Unsorted Leukapheresis", "v": 80.9, "txt": "*"}]}, "mark": {"type": "text", "fontSize": 10, "baseline": "bottom", "dx": 39, "fill": "#000"}, "encoding": {"text": {"field": "txt"}}},
        {"data": {"name": "a"}, "mark": {"type": "errorbar", "extent": "stdev", "ticks": true, "size": 20, "thickness": 2, "color": "#000", "rule": {"strokeWidth": 2}}},
        {"data": {"name": "a"}, "mark": {"type": "tick", "thickness": 2, "size": 26, "color": "#000"}, "encoding": {"y": {"aggregate": "mean", "field": "v", "type": "quantitative"}}},
        {"data": {"name": "a"}, "mark": {"type": "point", "filled": true, "stroke": "#000", "strokeWidth": 1.8, "size": 80, "opacity": 1},
         "encoding": {
           "xOffset": {"field": "d", "type": "nominal", "scale": {"domain": ["D4", "D6", "D1", "D2", "D9", "D7", "D3", "D8", "D5"]}},
           "shape": {"field": "d", "type": "nominal", "scale": {"domain": ["D1","D2","D3","D4","D5","D6","D7","D8","D9"], "range": ["circle","circle","triangle-up","triangle-up","triangle-right","triangle-right","diamond","M-0.6,-0.6L0.6,0.6M-0.6,0.6L0.6,-0.6","M-0.75,0H0.75M0,-0.75V0.75M-0.53,-0.53L0.53,0.53M-0.53,0.53L0.53,-0.53"]}, "legend": null},
           "fill": {"field": "d", "type": "nominal", "scale": {"domain": ["D1","D2","D3","D4","D5","D6","D7","D8","D9"], "range": ["#000","#fff","#000","#fff","#000","#fff","#fff","#fff","#fff"]}, "legend": null}
         }}
      ]
     }
    ]
   },
   {
    "title": {"text": "C", "anchor": "start", "frame": "bounds", "fontSize": 16, "offset": 0},
    "spacing": 10,
    "vconcat": [
     {"spacing": -9, "hconcat": [
      {"width": 175, "height": 142, "title": {"text": "Tumour Necrosis Factor alpha", "fontSize": 11.5, "offset": -16},
       "data": {"name": "c"}, "transform": [{"filter": "datum.k === 'TNF'"}],
       "encoding": {"x": {"field": "c", "type": "nominal", "scale": {"type": "band", "domain": ["Unsorted leukapheresis", "Monocyte depleted", "Isolated T-cells"], "paddingInner": 0.476, "paddingOuter": 0.265}, "axis": {"title": null, "labelAngle": 0, "labelExpr": "split(datum.label, ' ')", "labelFontSize": 8.5, "labelLineHeight": 11, "tickSize": 3, "labelPadding": 4}}},
       "layer": [
        {"mark": {"type": "bar", "stroke": "#000", "strokeWidth": 1.5}, "encoding": {"y": {"aggregate": "mean", "field": "v", "type": "quantitative", "scale": {"domain": [0, 4000], "nice": false}, "axis": {"title": "Concentration (pg/mL)", "titleFontSize": 11.5, "labelFontSize": 8.5, "format": "d", "values": [0, 1000, 2000, 3000, 4000], "tickSize": 4, "titlePadding": 3}}, "fill": {"field": "c", "type": "nominal", "scale": {"domain": ["Unsorted leukapheresis", "Monocyte depleted", "Isolated T-cells"], "range": ["#bd1b21", "#3d4f82", "#e5b931"]}, "legend": null}}},
        {"mark": {"type": "rule", "strokeWidth": 1.5, "color": "#000"}, "encoding": {"y": {"aggregate": "mean", "field": "v", "type": "quantitative", "axis": {"title": "Concentration (pg/mL)", "titleFontSize": 11.5, "labelFontSize": 8.5, "format": "d", "values": [0, 1000, 2000, 3000, 4000], "tickSize": 4, "titlePadding": 3}}, "y2": {"aggregate": "max", "field": "v"}}},
        {"mark": {"type": "tick", "thickness": 1.5, "size": 14, "color": "#000"}, "encoding": {"y": {"aggregate": "max", "field": "v", "type": "quantitative", "axis": {"title": "Concentration (pg/mL)", "titleFontSize": 11.5, "labelFontSize": 8.5, "format": "d", "values": [0, 1000, 2000, 3000, 4000], "tickSize": 4, "titlePadding": 3}}}},
        {"mark": {"type": "point", "filled": true, "color": "#000", "size": 45, "opacity": 1}, "encoding": {"y": {"field": "v", "type": "quantitative", "axis": {"title": "Concentration (pg/mL)", "titleFontSize": 11.5, "labelFontSize": 8.5, "format": "d", "values": [0, 1000, 2000, 3000, 4000], "tickSize": 4, "titlePadding": 3}}, "shape": {"field": "d", "type": "nominal", "scale": {"domain": ["P1", "P2", "P3"], "range": ["circle", "triangle-up", "triangle-right"]}, "legend": null}}}
       ]},
      {"width": 175, "height": 142, "title": {"text": "Interleukin-2", "fontSize": 11.5, "offset": -16},
       "data": {"name": "c"}, "transform": [{"filter": "datum.k === 'IL2'"}],
       "encoding": {"x": {"field": "c", "type": "nominal", "scale": {"type": "band", "domain": ["Unsorted leukapheresis", "Monocyte depleted", "Isolated T-cells"], "paddingInner": 0.476, "paddingOuter": 0.265}, "axis": {"title": null, "labelAngle": 0, "labelExpr": "split(datum.label, ' ')", "labelFontSize": 8.5, "labelLineHeight": 11, "tickSize": 3, "labelPadding": 4}}},
       "layer": [
        {"mark": {"type": "bar", "stroke": "#000", "strokeWidth": 1.5}, "encoding": {"y": {"aggregate": "mean", "field": "v", "type": "quantitative", "scale": {"domain": [0, 8000], "nice": false}, "axis": {"title": "Concentration (pg/mL)", "titleFontSize": 11.5, "labelFontSize": 8.5, "format": "d", "values": [0, 2000, 4000, 6000, 8000], "tickSize": 4, "titlePadding": 3}}, "fill": {"field": "c", "type": "nominal", "scale": {"domain": ["Unsorted leukapheresis", "Monocyte depleted", "Isolated T-cells"], "range": ["#bd1b21", "#3d4f82", "#e5b931"]}, "legend": null}}},
        {"mark": {"type": "rule", "strokeWidth": 1.5, "color": "#000"}, "encoding": {"y": {"aggregate": "mean", "field": "v", "type": "quantitative", "axis": {"title": "Concentration (pg/mL)", "titleFontSize": 11.5, "labelFontSize": 8.5, "format": "d", "values": [0, 2000, 4000, 6000, 8000], "tickSize": 4, "titlePadding": 3}}, "y2": {"aggregate": "max", "field": "v"}}},
        {"mark": {"type": "tick", "thickness": 1.5, "size": 14, "color": "#000"}, "encoding": {"y": {"aggregate": "max", "field": "v", "type": "quantitative", "axis": {"title": "Concentration (pg/mL)", "titleFontSize": 11.5, "labelFontSize": 8.5, "format": "d", "values": [0, 2000, 4000, 6000, 8000], "tickSize": 4, "titlePadding": 3}}}},
        {"mark": {"type": "point", "filled": true, "color": "#000", "size": 45, "opacity": 1}, "encoding": {"y": {"field": "v", "type": "quantitative", "axis": {"title": "Concentration (pg/mL)", "titleFontSize": 11.5, "labelFontSize": 8.5, "format": "d", "values": [0, 2000, 4000, 6000, 8000], "tickSize": 4, "titlePadding": 3}}, "shape": {"field": "d", "type": "nominal", "scale": {"domain": ["P1", "P2", "P3"], "range": ["circle", "triangle-up", "triangle-right"]}, "legend": null}}}
       ]}
     ]},
     {"spacing": -9, "hconcat": [
      {"width": 175, "height": 142, "title": {"text": "Granzyme B", "fontSize": 11.5, "offset": -16},
       "data": {"name": "c"}, "transform": [{"filter": "datum.k === 'GZB'"}],
       "encoding": {"x": {"field": "c", "type": "nominal", "scale": {"type": "band", "domain": ["Unsorted leukapheresis", "Monocyte depleted", "Isolated T-cells"], "paddingInner": 0.476, "paddingOuter": 0.265}, "axis": {"title": null, "labelAngle": 0, "labelExpr": "split(datum.label, ' ')", "labelFontSize": 8.5, "labelLineHeight": 11, "tickSize": 3, "labelPadding": 4}}},
       "layer": [
        {"mark": {"type": "bar", "stroke": "#000", "strokeWidth": 1.5}, "encoding": {"y": {"aggregate": "mean", "field": "v", "type": "quantitative", "scale": {"domain": [0, 40000], "nice": false}, "axis": {"title": "Concentration (pg/mL)", "titleFontSize": 11.5, "labelFontSize": 8.5, "format": "d", "values": [0, 10000, 20000, 30000, 40000], "tickSize": 4, "titlePadding": 3}}, "fill": {"field": "c", "type": "nominal", "scale": {"domain": ["Unsorted leukapheresis", "Monocyte depleted", "Isolated T-cells"], "range": ["#bd1b21", "#3d4f82", "#e5b931"]}, "legend": null}}},
        {"mark": {"type": "rule", "strokeWidth": 1.5, "color": "#000"}, "encoding": {"y": {"aggregate": "mean", "field": "v", "type": "quantitative", "axis": {"title": "Concentration (pg/mL)", "titleFontSize": 11.5, "labelFontSize": 8.5, "format": "d", "values": [0, 10000, 20000, 30000, 40000], "tickSize": 4, "titlePadding": 3}}, "y2": {"aggregate": "max", "field": "v"}}},
        {"mark": {"type": "tick", "thickness": 1.5, "size": 14, "color": "#000"}, "encoding": {"y": {"aggregate": "max", "field": "v", "type": "quantitative", "axis": {"title": "Concentration (pg/mL)", "titleFontSize": 11.5, "labelFontSize": 8.5, "format": "d", "values": [0, 10000, 20000, 30000, 40000], "tickSize": 4, "titlePadding": 3}}}},
        {"mark": {"type": "point", "filled": true, "color": "#000", "size": 45, "opacity": 1}, "encoding": {"y": {"field": "v", "type": "quantitative", "axis": {"title": "Concentration (pg/mL)", "titleFontSize": 11.5, "labelFontSize": 8.5, "format": "d", "values": [0, 10000, 20000, 30000, 40000], "tickSize": 4, "titlePadding": 3}}, "shape": {"field": "d", "type": "nominal", "scale": {"domain": ["P1", "P2", "P3"], "range": ["circle", "triangle-up", "triangle-right"]}, "legend": null}}}
       ]},
      {"width": 175, "height": 142, "title": {"text": "Interferon gamma", "fontSize": 11.5, "offset": -16},
       "data": {"name": "c"}, "transform": [{"filter": "datum.k === 'IFN'"}],
       "encoding": {"x": {"field": "c", "type": "nominal", "scale": {"type": "band", "domain": ["Unsorted leukapheresis", "Monocyte depleted", "Isolated T-cells"], "paddingInner": 0.476, "paddingOuter": 0.265}, "axis": {"title": null, "labelAngle": 0, "labelExpr": "split(datum.label, ' ')", "labelFontSize": 8.5, "labelLineHeight": 11, "tickSize": 3, "labelPadding": 4}}},
       "layer": [
        {"mark": {"type": "bar", "stroke": "#000", "strokeWidth": 1.5}, "encoding": {"y": {"aggregate": "mean", "field": "v", "type": "quantitative", "scale": {"domain": [0, 30000], "nice": false}, "axis": {"title": "Concentration (pg/mL)", "titleFontSize": 11.5, "labelFontSize": 8.5, "format": "d", "values": [0, 10000, 20000, 30000], "tickSize": 4, "titlePadding": 3}}, "fill": {"field": "c", "type": "nominal", "scale": {"domain": ["Unsorted leukapheresis", "Monocyte depleted", "Isolated T-cells"], "range": ["#bd1b21", "#3d4f82", "#e5b931"]}, "legend": null}}},
        {"mark": {"type": "rule", "strokeWidth": 1.5, "color": "#000"}, "encoding": {"y": {"aggregate": "mean", "field": "v", "type": "quantitative", "axis": {"title": "Concentration (pg/mL)", "titleFontSize": 11.5, "labelFontSize": 8.5, "format": "d", "values": [0, 10000, 20000, 30000], "tickSize": 4, "titlePadding": 3}}, "y2": {"aggregate": "max", "field": "v"}}},
        {"mark": {"type": "tick", "thickness": 1.5, "size": 14, "color": "#000"}, "encoding": {"y": {"aggregate": "max", "field": "v", "type": "quantitative", "axis": {"title": "Concentration (pg/mL)", "titleFontSize": 11.5, "labelFontSize": 8.5, "format": "d", "values": [0, 10000, 20000, 30000], "tickSize": 4, "titlePadding": 3}}}},
        {"mark": {"type": "point", "filled": true, "color": "#000", "size": 45, "opacity": 1}, "encoding": {"y": {"field": "v", "type": "quantitative", "axis": {"title": "Concentration (pg/mL)", "titleFontSize": 11.5, "labelFontSize": 8.5, "format": "d", "values": [0, 10000, 20000, 30000], "tickSize": 4, "titlePadding": 3}}, "shape": {"field": "d", "type": "nominal", "scale": {"domain": ["P1", "P2", "P3"], "range": ["circle", "triangle-up", "triangle-right"]}, "legend": null}}}
       ]}
     ]}
    ]
   }
  ]
 },
 {
  "title": {"text": "B", "anchor": "start", "frame": "bounds", "fontSize": 16, "offset": 0},
  "spacing": 8,
  "hconcat": [
   {
    "spacing": 9, "bounds": "flush",
    "vconcat": [
     {
      "width": 178, "height": 57,
      "title": {"text": "Donor 2", "fontSize": 12, "offset": 8},
      "data": {"name": "b"}, "transform": [{"filter": "datum.d === 2 && datum.y >= 25000"}],
      "encoding": {
        "x": {"field": "t", "type": "quantitative", "scale": {"domain": [0, 80], "nice": false}, "axis": null},
        "y": {"field": "y", "type": "quantitative", "scale": {"domain": [25000, 60000], "nice": false, "zero": false}, "axis": {"title": null, "values": [30000, 40000, 50000, 60000], "format": "d", "labelFontSize": 9.5, "tickSize": 4}},
        "color": {"field": "s", "type": "nominal", "scale": {"domain": ["Unsorted leukapheresis", "Monocyte depleted", "Isolated T-cell", "Target cell only", "Not transduced"], "range": ["#63b536", "#e3262b", "#2b2bf0", "#000000", "#9a26e3"]}, "legend": {"title": null, "orient": "none", "legendX": 27, "legendY": 609, "direction": "horizontal", "columns": 5, "labelFontSize": 10.5, "labelOffset": 9, "symbolType": "M-1,0H1M0,-0.45V0.45", "symbolStrokeWidth": 1.5, "symbolSize": 110, "columnPadding": 14, "labelLimit": 250}}
      },
      "layer": [{"mark": {"type": "line", "strokeWidth": 1}}, {"mark": {"type": "point", "filled": true, "size": 14, "opacity": 1}}]
     },
     {
      "width": 178, "height": 114,
      "encoding": {
        "x": {"field": "t", "type": "quantitative", "scale": {"domain": [0, 80], "nice": false}, "axis": {"title": "Time (Hrs)", "values": [0, 20, 40, 60, 80], "labelFontSize": 10, "titleFontSize": 9.5, "tickSize": 4, "labelPadding": 2, "titlePadding": 4}},
        "y": {"field": "y", "type": "quantitative", "scale": {"domain": [0, 20000], "nice": false}, "axis": {"title": "Target cell count", "titleFontSize": 11.5, "values": [0, 5000, 10000, 15000, 20000], "format": "d", "labelFontSize": 9.5, "tickSize": 4, "titleY": 24, "titlePadding": 4}}
      },
      "layer": [
       {"data": {"name": "vr"}, "mark": {"type": "rule", "strokeWidth": 1.5, "color": "#222"}, "encoding": {"y2": {"field": "y2"}}},
       {"data": {"name": "ar"}, "mark": {"type": "rule", "strokeWidth": 1.5, "color": "#222"}, "encoding": {"x2": {"field": "t2"}}},
       {"data": {"name": "ah"}, "mark": {"type": "point", "filled": true, "color": "#000", "size": 50, "opacity": 1}, "encoding": {"shape": {"field": "sh", "type": "nominal", "scale": null}}},
       {"data": {"name": "st"}, "mark": {"type": "text", "fontSize": 16, "fontWeight": "bold", "fill": "#000"}, "encoding": {"text": {"field": "txt"}}},
       {"data": {"name": "b"}, "transform": [{"filter": "datum.d === 2 && datum.y <= 20000"}], "mark": {"type": "errorbar", "ticks": true, "size": 5, "thickness": 1, "opacity": 0.5}, "encoding": {"yError": {"field": "e"}, "color": {"field": "s", "type": "nominal"}}},
       {"data": {"name": "b"}, "transform": [{"filter": "datum.d === 2 && datum.y <= 20000"}], "mark": {"type": "line", "strokeWidth": 1}, "encoding": {"color": {"field": "s", "type": "nominal"}}},
       {"data": {"name": "b"}, "transform": [{"filter": "datum.d === 2 && datum.y <= 20000"}], "mark": {"type": "point", "filled": true, "size": 14, "opacity": 1}, "encoding": {"color": {"field": "s", "type": "nominal"}}}
      ]
     }
    ]
   },
   {
    "spacing": 9, "bounds": "flush",
    "vconcat": [
     {
      "width": 178, "height": 57,
      "title": {"text": "Donor 4", "fontSize": 12, "offset": 8},
      "data": {"name": "b"}, "transform": [{"filter": "datum.d === 4 && datum.y >= 25000"}],
      "encoding": {
        "x": {"field": "t", "type": "quantitative", "scale": {"domain": [0, 80], "nice": false}, "axis": null},
        "y": {"field": "y", "type": "quantitative", "scale": {"domain": [25000, 60000], "nice": false, "zero": false}, "axis": {"title": null, "values": [30000, 40000, 50000, 60000], "format": "d", "labelFontSize": 9.5, "tickSize": 4}},
        "color": {"field": "s", "type": "nominal"}
      },
      "layer": [{"mark": {"type": "line", "strokeWidth": 1}}, {"mark": {"type": "point", "filled": true, "size": 14, "opacity": 1}}]
     },
     {
      "width": 178, "height": 114,
      "encoding": {
        "x": {"field": "t", "type": "quantitative", "scale": {"domain": [0, 80], "nice": false}, "axis": {"title": "Time (Hrs)", "values": [0, 20, 40, 60, 80], "labelFontSize": 10, "titleFontSize": 9.5, "tickSize": 4, "labelPadding": 2, "titlePadding": 4}},
        "y": {"field": "y", "type": "quantitative", "scale": {"domain": [0, 20000], "nice": false}, "axis": {"title": "Target cell count", "titleFontSize": 11.5, "values": [0, 5000, 10000, 15000, 20000], "format": "d", "labelFontSize": 9.5, "tickSize": 4, "titleY": 24, "titlePadding": 4}}
      },
      "layer": [
       {"data": {"name": "vr"}, "mark": {"type": "rule", "strokeWidth": 1.5, "color": "#222"}, "encoding": {"y2": {"field": "y2"}}},
       {"data": {"name": "ar"}, "mark": {"type": "rule", "strokeWidth": 1.5, "color": "#222"}, "encoding": {"x2": {"field": "t2"}}},
       {"data": {"name": "ah"}, "mark": {"type": "point", "filled": true, "color": "#000", "size": 50, "opacity": 1}, "encoding": {"shape": {"field": "sh", "type": "nominal", "scale": null}}},
       {"data": {"name": "st"}, "mark": {"type": "text", "fontSize": 16, "fontWeight": "bold", "fill": "#000"}, "encoding": {"text": {"field": "txt"}}},
       {"data": {"name": "b"}, "transform": [{"filter": "datum.d === 4 && datum.y <= 20000"}], "mark": {"type": "errorbar", "ticks": true, "size": 5, "thickness": 1, "opacity": 0.5}, "encoding": {"yError": {"field": "e"}, "color": {"field": "s", "type": "nominal"}}},
       {"data": {"name": "b"}, "transform": [{"filter": "datum.d === 4 && datum.y <= 20000"}], "mark": {"type": "line", "strokeWidth": 1}, "encoding": {"color": {"field": "s", "type": "nominal"}}},
       {"data": {"name": "b"}, "transform": [{"filter": "datum.d === 4 && datum.y <= 20000"}], "mark": {"type": "point", "filled": true, "size": 14, "opacity": 1}, "encoding": {"color": {"field": "s", "type": "nominal"}}}
      ]
     }
    ]
   },
   {
    "spacing": 9, "bounds": "flush",
    "vconcat": [
     {
      "width": 178, "height": 57,
      "title": {"text": "Donor 5", "fontSize": 12, "offset": 8},
      "data": {"name": "b"}, "transform": [{"filter": "datum.d === 5 && datum.y >= 25000"}],
      "encoding": {
        "x": {"field": "t", "type": "quantitative", "scale": {"domain": [0, 80], "nice": false}, "axis": null},
        "y": {"field": "y", "type": "quantitative", "scale": {"domain": [25000, 60000], "nice": false, "zero": false}, "axis": {"title": null, "values": [30000, 40000, 50000, 60000], "format": "d", "labelFontSize": 9.5, "tickSize": 4}},
        "color": {"field": "s", "type": "nominal"}
      },
      "layer": [{"mark": {"type": "line", "strokeWidth": 1}}, {"mark": {"type": "point", "filled": true, "size": 14, "opacity": 1}}]
     },
     {
      "width": 178, "height": 114,
      "encoding": {
        "x": {"field": "t", "type": "quantitative", "scale": {"domain": [0, 80], "nice": false}, "axis": {"title": "Time (Hrs)", "values": [0, 20, 40, 60, 80], "labelFontSize": 10, "titleFontSize": 9.5, "tickSize": 4, "labelPadding": 2, "titlePadding": 4}},
        "y": {"field": "y", "type": "quantitative", "scale": {"domain": [0, 20000], "nice": false}, "axis": {"title": "Target cell count", "titleFontSize": 11.5, "values": [0, 5000, 10000, 15000, 20000], "format": "d", "labelFontSize": 9.5, "tickSize": 4, "titleY": 24, "titlePadding": 4}}
      },
      "layer": [
       {"data": {"name": "vr"}, "mark": {"type": "rule", "strokeWidth": 1.5, "color": "#222"}, "encoding": {"y2": {"field": "y2"}}},
       {"data": {"name": "ar"}, "mark": {"type": "rule", "strokeWidth": 1.5, "color": "#222"}, "encoding": {"x2": {"field": "t2"}}},
       {"data": {"name": "ah"}, "mark": {"type": "point", "filled": true, "color": "#000", "size": 50, "opacity": 1}, "encoding": {"shape": {"field": "sh", "type": "nominal", "scale": null}}},
       {"data": {"name": "st"}, "mark": {"type": "text", "fontSize": 16, "fontWeight": "bold", "fill": "#000"}, "encoding": {"text": {"field": "txt"}}},
       {"data": {"name": "b"}, "transform": [{"filter": "datum.d === 5 && datum.y <= 20000"}], "mark": {"type": "errorbar", "ticks": true, "size": 5, "thickness": 1, "opacity": 0.5}, "encoding": {"yError": {"field": "e"}, "color": {"field": "s", "type": "nominal"}}},
       {"data": {"name": "b"}, "transform": [{"filter": "datum.d === 5 && datum.y <= 20000"}], "mark": {"type": "line", "strokeWidth": 1}, "encoding": {"color": {"field": "s", "type": "nominal"}}},
       {"data": {"name": "b"}, "transform": [{"filter": "datum.d === 5 && datum.y <= 20000"}], "mark": {"type": "point", "filled": true, "size": 14, "opacity": 1}, "encoding": {"color": {"field": "s", "type": "nominal"}}}
      ]
     }
    ]
   }
  ]
 }
]
}
